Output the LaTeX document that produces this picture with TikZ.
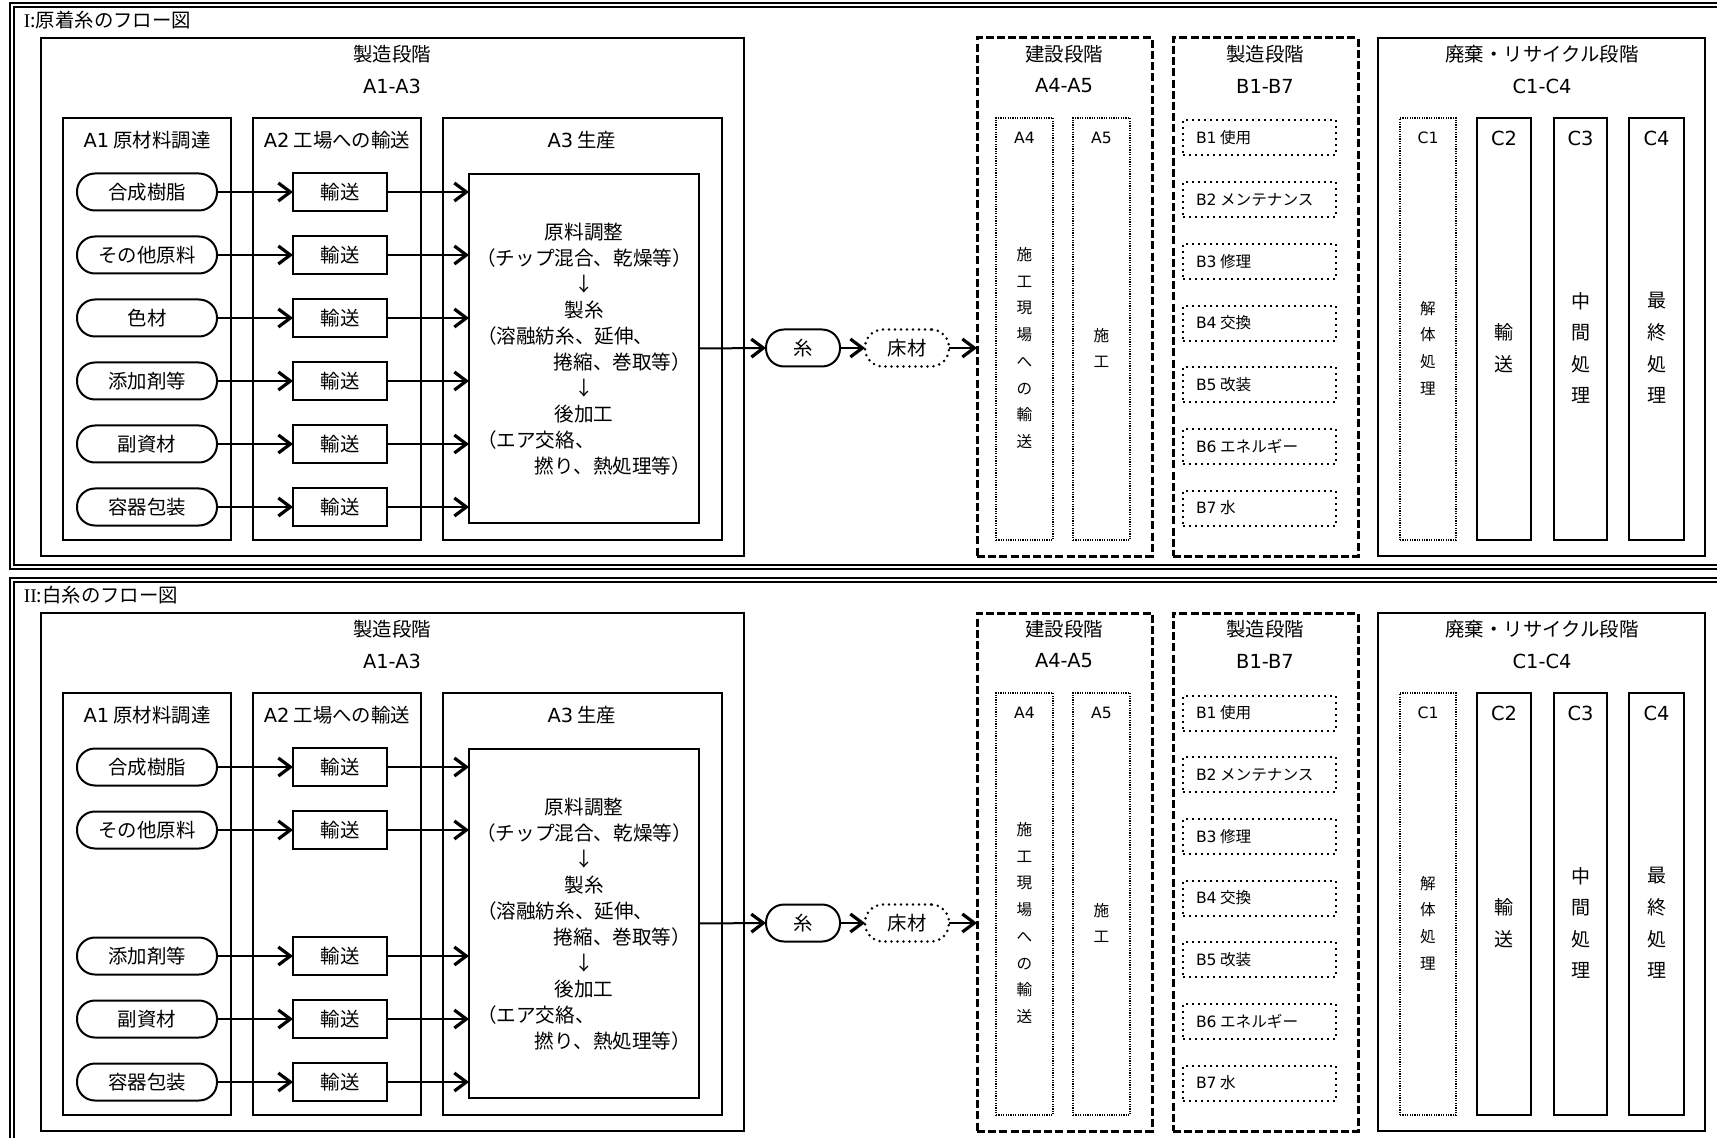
\documentclass[tikz,border=0pt]{standalone}
\usepackage{fontspec}
\setmainfont{Noto Sans CJK JP}
\newfontfamily\lat{DejaVu Sans}
\newfontfamily\ser{Liberation Serif}
\usetikzlibrary{arrows.meta,fit}
\newcommand\fsN{\fontsize{9.7}{12}\selectfont}
\newcommand\fsS{\fontsize{7.8}{10}\selectfont}
\newcommand\fsP{\fontsize{9.8}{13}\selectfont}
\newcommand\fsVs{\fontsize{7.8}{13.35}\selectfont}
\newcommand\fsVl{\fontsize{9.5}{15.8}\selectfont}
\tikzset{
  every node/.style={inner sep=0pt, outer sep=0pt},
  frm/.style={draw, line width=0.75pt},
  solidbox/.style={draw, line width=1pt, inner sep=0pt},
  dashbox/.style={draw, line width=1.5pt, dash pattern=on 4pt off 1.6pt, inner sep=0pt},
  densebox/.style={draw, line width=1.1pt, dash pattern=on 0.6pt off 0.6pt, inner sep=0pt},
  dotbox/.style={draw, line width=1pt, dash pattern=on 1pt off 2pt},
  pill/.style={draw, line width=1pt, rounded corners=9pt, minimum width=70pt, minimum height=18.5pt, font=\fsN},
  dotpill/.style={draw, line width=1.4pt, line cap=round, dash pattern=on 0pt off 3pt, rounded corners=9pt, minimum width=42pt, minimum height=18.5pt, font=\fsN},
  tbox/.style={draw, line width=1pt, minimum width=47pt, minimum height=19pt, font=\fsN},
  arr/.style={line width=1pt, -{Straight Barb[length=6pt,width=9pt,line width=1.6pt]}},
  lbl/.style={font=\fsN},
  slbl/.style={font=\fsS},
}
\newcommand\drawpanel[4]{%
\begin{scope}[yshift=-#1pt]
  \draw[frm] (10,3) rectangle (1745,569);
  \draw[frm] (14,7) rectangle (1741,565);
  \node[anchor=west, lbl] (#2title) at (24,20) {#4};
  % manufacturing stage
  \node[fit={(41,38) (744,556)}, solidbox] (#2mfg) {};
  \node[lbl] (#2mfgh) at (392,54) {製造段階};
  \node[lbl] (#2mfgc) at (392,86) {\lat A1-A3};
  \node[fit={(63,118) (231,540)}, solidbox] (#2a1) {};
  \node[fit={(253,118) (421,540)}, solidbox] (#2a2) {};
  \node[fit={(443,118) (722,540)}, solidbox] (#2a3) {};
  \node[lbl] (#2a1h) at (147,140) {{\lat A1} 原材料調達};
  \node[lbl] (#2a2h) at (337,140) {{\lat A2} 工場への輸送};
  \node[lbl] (#2a3h) at (582,140) {{\lat A3} 生産};
  \node[fit={(469,174) (699,523)}, solidbox] (#2proc) {};
  \node[font=\fsP, align=center] (#2proct) at (584,349) {原料調整\\
    （チップ混合、乾燥等）\\
    ↓\\
    製糸\\
    \makebox[107pt][l]{（溶融紡糸、延伸、}\\
    \makebox[107pt][r]{捲縮、巻取等）}\\
    ↓\\
    後加工\\
    \makebox[107pt][l]{（エア交絡、}\\
    \makebox[107pt][r]{撚り、熱処理等）}};
  \foreach \k/\lab in {#3} {
    \pgfmathsetmacro\ry{192+63*\k}
    \node[pill] (#2s\k) at (147,\ry) {\lab};
    \node[tbox] (#2t\k) at (340,\ry) {輸送};
    \draw[arr] (#2s\k) -- (#2t\k);
    \draw[arr] (#2t\k) -- (#2t\k.east -| #2proc.west);
  }
  \node[pill, minimum width=37pt] (#2ito) at (803,348) {糸};
  \node[dotpill] (#2yuka) at (907,348) {床材};
  % construction stage
  \node[fit={(977,38) (1152,556)}, dashbox] (#2ken) {};
  \node[lbl] (#2kenh) at (1064,54) {建設段階};
  \node[lbl] (#2kenc) at (1064,86) {\lat A4-A5};
  \node[fit={(996,118) (1053,540)}, densebox] (#2a4) {};
  \node[fit={(1073,118) (1130,540)}, densebox] (#2a5) {};
  \node[slbl] (#2a4h) at (1024.5,138) {\lat A4};
  \node[slbl] (#2a5h) at (1101.5,138) {\lat A5};
  \node[font=\fsVs, align=center] (#2a4t) at (1024.5,348) {施\\工\\現\\場\\へ\\の\\輸\\送};
  \node[font=\fsVs, align=center] (#2a5t) at (1101.5,348) {施\\工};
  % use stage
  \node[fit={(1173,38) (1358,556)}, dashbox] (#2use) {};
  \node[lbl] (#2useh) at (1265,54) {製造段階};
  \node[lbl] (#2usec) at (1265,86) {\lat B1-B7};
  \foreach \k/\lab in {1/使用, 2/メンテナンス, 3/修理, 4/交換, 5/改装, 6/エネルギー, 7/水} {
    \pgfmathsetmacro\by{138+61.67*(\k-1)}
    \node[dotbox, minimum width=76.5pt, minimum height=17.5pt] (#2b\k) at (1259.5,\by) {};
    \node[slbl, anchor=west] (#2bl\k) at (1196,\by) {{\lat B\k} \lab};
  }
  % end of life stage
  \node[fit={(1378,38) (1705,556)}, solidbox] (#2eol) {};
  \node[lbl] (#2eolh) at (1542,54) {廃棄・リサイクル段階};
  \node[lbl] (#2eolc) at (1542,86) {\lat C1-C4};
  \node[fit={(1400,118) (1456,540)}, densebox] (#2c1) {};
  \node[fit={(1477,118) (1531,540)}, solidbox] (#2c2) {};
  \node[fit={(1554,118) (1607,540)}, solidbox] (#2c3) {};
  \node[fit={(1629,118) (1684,540)}, solidbox] (#2c4) {};
  \node[slbl] (#2c1h) at (1428,138) {\lat C1};
  \node[lbl] (#2c2h) at (1504,138) {\lat C2};
  \node[lbl] (#2c3h) at (1580.5,138) {\lat C3};
  \node[lbl] (#2c4h) at (1656.5,138) {\lat C4};
  \node[font=\fsVs, align=center] (#2c1t) at (1428,348) {解\\体\\処\\理};
  \node[font=\fsVl, align=center] (#2c2t) at (1504,348) {輸\\送};
  \node[font=\fsVl, align=center] (#2c3t) at (1580.5,348) {中\\間\\処\\理};
  \node[font=\fsVl, align=center] (#2c4t) at (1656.5,348) {最\\終\\処\\理};
  % flow
  \draw[arr] (#2proc.east) -- (#2ito.west);
  \draw[arr] (#2ito) -- (#2yuka);
  \draw[arr] (#2yuka) -- (#2yuka.east -| #2ken.west);
\end{scope}}
\begin{document}
\begin{tikzpicture}[x=0.5pt, y=-0.5pt]
  \useasboundingbox (0,0) rectangle (1717,1138);
  \clip (0,0) rectangle (1717,1138);
  \fill[white] (0,0) rectangle (1717,1138);
  \drawpanel{0}{p}{0/合成樹脂, 1/その他原料, 2/色材, 3/添加剤等, 4/副資材, 5/容器包装}{{\ser I}:原着糸のフロー図}
  \drawpanel{287.5}{q}{0/合成樹脂, 1/その他原料, 3/添加剤等, 4/副資材, 5/容器包装}{{\ser II}:白糸のフロー図}
\end{tikzpicture}
\end{document}
